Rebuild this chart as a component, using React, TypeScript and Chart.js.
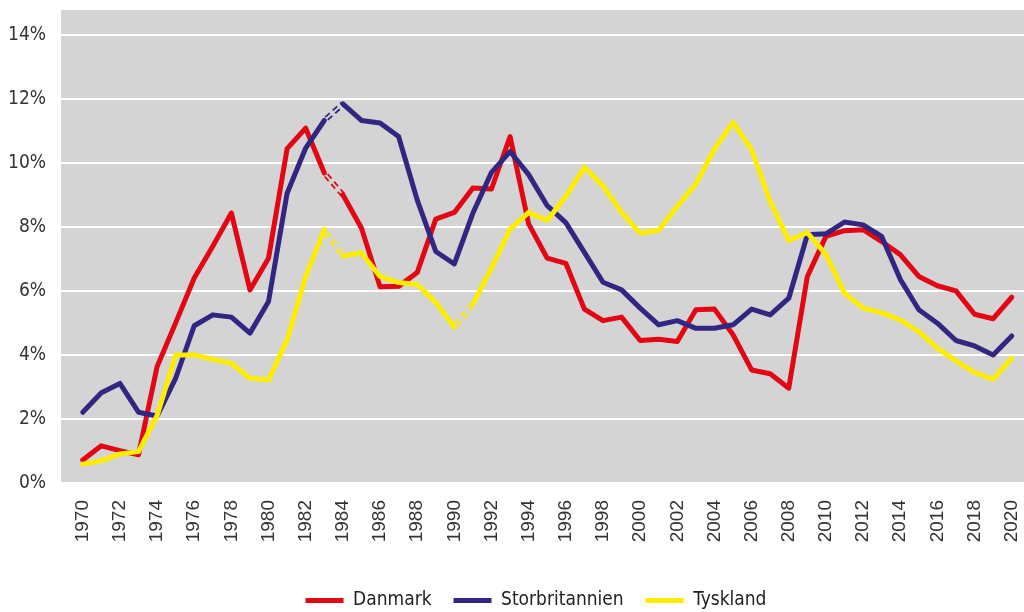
import React, { useEffect, useRef } from 'react';
import { Chart, registerables } from 'chart.js';

Chart.register(...registerables);

const years = [
  1970, 1971, 1972, 1973, 1974, 1975, 1976, 1977, 1978, 1979,
  1980, 1981, 1982, 1983, 1984, 1985, 1986, 1987, 1988, 1989,
  1990, 1991, 1992, 1993, 1994, 1995, 1996, 1997, 1998, 1999,
  2000, 2001, 2002, 2003, 2004, 2005, 2006, 2007, 2008, 2009,
  2010, 2011, 2012, 2013, 2014, 2015, 2016, 2017, 2018, 2019,
  2020,
];

const danmark = [
  0.72, 1.16, 1.01, 0.88, 3.63, 5.0, 6.4, 7.39, 8.43, 6.03,
  7.02, 10.44, 11.08, 9.68, 9.0, 7.96, 6.13, 6.14, 6.57, 8.24,
  8.45, 9.21, 9.18, 10.82, 8.09, 7.02, 6.86, 5.43, 5.07, 5.18,
  4.45, 4.49, 4.42, 5.41, 5.43, 4.63, 3.53, 3.41, 2.96, 6.45,
  7.7, 7.88, 7.91, 7.54, 7.13, 6.45, 6.16, 6.0, 5.27, 5.13,
  5.8,
];

const storbritannien = [
  2.21, 2.82, 3.11, 2.21, 2.09, 3.27, 4.91, 5.25, 5.18, 4.68,
  5.67, 9.05, 10.46, 11.32, 11.84, 11.32, 11.24, 10.82, 8.84, 7.23,
  6.84, 8.43, 9.7, 10.35, 9.63, 8.66, 8.13, 7.2, 6.27, 6.03,
  5.46, 4.94, 5.07, 4.83, 4.83, 4.94, 5.43, 5.25, 5.77, 7.75,
  7.78, 8.15, 8.06, 7.7, 6.36, 5.41, 4.99, 4.45, 4.28, 4.0,
  4.59,
];

const tyskland = [
  0.59, 0.69, 0.91, 0.98, 2.1, 4.0, 4.0, 3.86, 3.74, 3.27,
  3.22, 4.47, 6.45, 7.91, 7.09, 7.18, 6.45, 6.26, 6.2, 5.64,
  4.86, 5.59, 6.71, 7.93, 8.45, 8.2, 8.95, 9.86, 9.28, 8.45,
  7.8, 7.89, 8.64, 9.34, 10.43, 11.26, 10.41, 8.79, 7.57, 7.82,
  7.13, 5.93, 5.46, 5.32, 5.09, 4.73, 4.21, 3.81, 3.45, 3.24,
  3.9,
];

// Years at which a dashed (estimated) segment starts
const danmarkDashed = [1983];
const storbritannienDashed = [1983];
const tysklandDashed = [1983, 1990];

const yTicks = [0, 2, 4, 6, 8, 10, 12, 14];
const xTicks = [
  1970, 1972, 1974, 1976, 1978, 1980, 1982, 1984, 1986, 1988, 1990, 1992, 1994,
  1996, 1998, 2000, 2002, 2004, 2006, 2008, 2010, 2012, 2014, 2016, 2018, 2020,
];

const RED = '#e30613';
const BLUE = '#312783';
const YELLOW = '#ffed00';
const PLOT_BG = '#d4d4d4';
const TEXT = '#333333';

const bgPlugin = {
  id: 'plotBg',
  beforeDraw(chart: any) {
    const { ctx, chartArea: a } = chart;
    ctx.save();
    ctx.fillStyle = PLOT_BG;
    ctx.fillRect(a.left, a.top, a.right - a.left, a.bottom - a.top);
    ctx.restore();
  },
};

const legendShiftPlugin = {
  id: 'legendShift',
  afterLayout(chart: any) {
    const lg = chart.legend;
    if (lg) {
      lg.left += 24;
      lg.right += 24;
      lg.top += 1;
      lg.bottom += 1;
    }
  },
};

const doubleDashPlugin = {
  id: 'doubleDash',
  afterDatasetsDraw(chart: any) {
    const { ctx } = chart;
    chart.data.datasets.forEach((ds: any, di: number) => {
      const meta = chart.getDatasetMeta(di);
      const starts: number[] = ds.dashedFrom || [];
      starts.forEach((yr) => {
        const i = years.indexOf(yr);
        const p0 = meta.data[i];
        const p1 = meta.data[i + 1];
        if (!p0 || !p1) return;
        const dx = p1.x - p0.x;
        const dy = p1.y - p0.y;
        const len = Math.hypot(dx, dy);
        const nx = -dy / len;
        const ny = dx / len;
        ctx.save();
        ctx.strokeStyle = ds.lineColor;
        ctx.lineWidth = 1.8;
        ctx.setLineDash([6, 4]);
        ctx.lineDashOffset = 7;
        for (const s of [-1.9, 1.9]) {
          ctx.beginPath();
          ctx.moveTo(p0.x + nx * s, p0.y + ny * s);
          ctx.lineTo(p1.x + nx * s, p1.y + ny * s);
          ctx.stroke();
        }
        ctx.restore();
      });
    });
  },
};

function makeDataset(label: string, values: number[], color: string, dashed: number[], order: number) {
  return {
    label,
    data: years.map((yr, i) => ({ x: yr, y: values[i] })),
    borderColor: color,
    backgroundColor: color,
    lineColor: color,
    dashedFrom: dashed,
    borderWidth: 5,
    borderCapStyle: 'round',
    borderJoinStyle: 'round',
    pointRadius: 0,
    pointHoverRadius: 0,
    tension: 0,
    fill: false,
    order,
    segment: {
      borderColor: (c: any) =>
        dashed.includes(years[c.p0DataIndex]) ? 'rgba(0,0,0,0)' : color,
    },
  };
}

export default function App() {
  const canvasRef = useRef<HTMLCanvasElement | null>(null);

  useEffect(() => {
    if (!canvasRef.current) return;
    const chart = new Chart(canvasRef.current, {
      type: 'line',
      data: {
        datasets: [
          makeDataset('Danmark', danmark, RED, danmarkDashed, 3),
          makeDataset('Storbritannien', storbritannien, BLUE, storbritannienDashed, 2),
          makeDataset('Tyskland', tyskland, YELLOW, tysklandDashed, 1),
        ] as any,
      },
      options: {
        animation: false,
        responsive: false,
        maintainAspectRatio: false,
        layout: { padding: { top: 10, left: 0, right: 0, bottom: -7 } },
        plugins: {
          tooltip: { enabled: false },
          legend: {
            position: 'bottom',
            labels: {
              usePointStyle: true,
              pointStyle: 'line',
              pointStyleWidth: 38,
              padding: 22,
              color: '#222222',
              font: { family: "'DejaVu Sans Condensed', 'DejaVu Sans', sans-serif", size: 19 },
              sort: (a: any, b: any) => a.datasetIndex - b.datasetIndex,
            },
          },
        },
        scales: {
          x: {
            type: 'linear',
            min: 1968.83,
            max: 2020.66,
            afterBuildTicks: (scale: any) => {
              scale.ticks = xTicks.map((v) => ({ value: v }));
            },
            afterFit: (scale: any) => {
              scale.height = 85;
              scale.paddingLeft = 0;
              scale.paddingRight = 0;
            },
            grid: { display: false, drawTicks: false },
            border: { display: false },
            ticks: {
              autoSkip: false,
              minRotation: 90,
              maxRotation: 90,
              padding: 17,
              color: TEXT,
              font: { family: "'Liberation Sans', Arial, sans-serif", size: 19 },
              callback: (v: any) => String(v),
            },
          },
          y: {
            min: 0,
            max: 14.77,
            afterBuildTicks: (scale: any) => {
              scale.ticks = yTicks.map((v) => ({ value: v }));
            },
            afterFit: (scale: any) => {
              scale.width = 61;
              scale.paddingTop = 0;
              scale.paddingBottom = 0;
            },
            grid: { color: '#ffffff', lineWidth: 2, drawTicks: false },
            border: { display: false },
            ticks: {
              padding: 15,
              color: TEXT,
              font: { family: "'DejaVu Sans Condensed', 'DejaVu Sans', sans-serif", size: 19 },
              callback: (v: any) => `${v}%`,
            },
          },
        },
      },
      plugins: [bgPlugin, legendShiftPlugin, doubleDashPlugin],
    });
    return () => chart.destroy();
  }, []);

  return (
    <div style={{ position: 'absolute', left: 0, top: 0, width: 1024, height: 612 }}>
      <canvas ref={canvasRef} width={1024} height={612} style={{ display: 'block' }} />
    </div>
  );
}
